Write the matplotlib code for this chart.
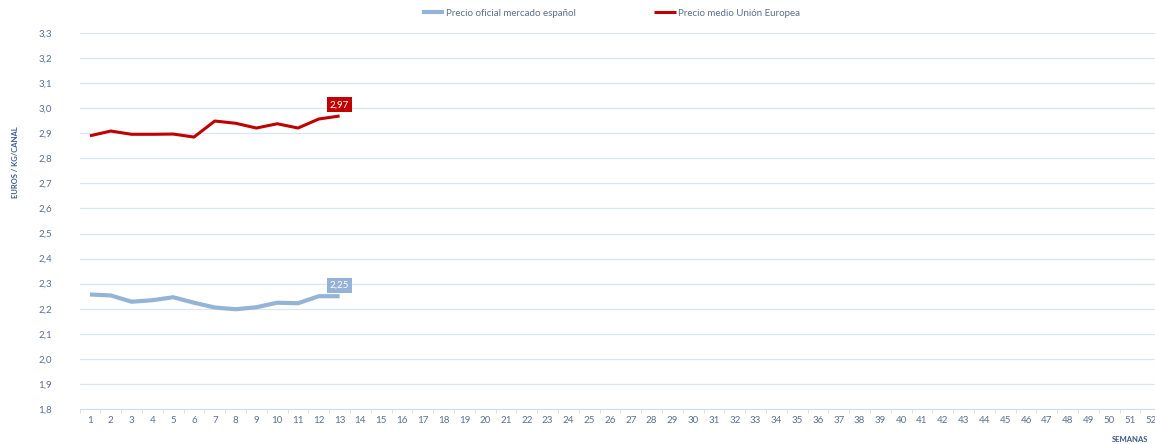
import numpy as np
import matplotlib.pyplot as plt
from matplotlib.ticker import FixedLocator

weeks = list(range(1, 53))
semanas_datos = list(range(1, 14))
precio_espanol = [2.257, 2.253, 2.228, 2.234, 2.246, 2.224, 2.205, 2.198, 2.206, 2.224, 2.222, 2.250, 2.250]
precio_ue = [2.890, 2.909, 2.896, 2.896, 2.897, 2.885, 2.949, 2.940, 2.921, 2.938, 2.921, 2.957, 2.969]
yticks = [1.8, 1.9, 2.0, 2.1, 2.2, 2.3, 2.4, 2.5, 2.6, 2.7, 2.8, 2.9, 3.0, 3.1, 3.2, 3.3]

plt.rcParams['font.family'] = ['Lato', 'DejaVu Sans']
txt = '#5b6f8f'
azul = '#95b3d7'
rojo = '#c00000'

fig = plt.figure(figsize=(11.55, 4.44), dpi=100)
ax = fig.add_axes([0.0689, 0.0788, 0.9365, 0.8468])

ax.plot(semanas_datos, precio_espanol, color=azul, lw=3.0, solid_capstyle='butt',
        label='Precio oficial mercado español')
ax.plot(semanas_datos, precio_ue, color=rojo, lw=2.2, solid_capstyle='butt',
        label='Precio medio Unión Europea')

# etiquetas del ultimo valor
for serie, col in ((precio_espanol, azul), (precio_ue, rojo)):
    v = serie[-1]
    ax.annotate(f'{v:.2f}'.replace('.', ','), (semanas_datos[-1], v),
                xytext=(0, 8), textcoords='offset points', ha='center', va='center',
                fontsize=7, color='white',
                bbox=dict(boxstyle='square,pad=0.3', fc=col, ec='none'))

ax.set_xlim(0.5, 52.5)
ax.set_ylim(1.8, 3.3)
ax.set_yticks(yticks)
ax.set_yticklabels([f'{v:.1f}'.replace('.', ',') for v in yticks])
ax.set_xticks(weeks)
ax.set_xticklabels([str(w) for w in weeks])
ax.xaxis.set_minor_locator(FixedLocator(np.arange(0.5, 53, 1)))
ax.tick_params(axis='x', which='major', length=0, labelsize=7, colors=txt, pad=5)
ax.tick_params(axis='x', which='minor', length=3, color='#d0dbe8')
ax.tick_params(axis='y', length=0, labelsize=7, colors=txt, pad=20)
ax.grid(axis='y', color='#dce6f2', lw=0.9)
ax.set_axisbelow(True)
for s in ['top', 'right', 'left']:
    ax.spines[s].set_visible(False)
ax.spines['bottom'].set_color('#d0dbe8')
ax.spines['bottom'].set_zorder(0.5)

fig.text(0.013, 0.635, 'EUROS / KG/CANAL', rotation=90, ha='center', va='center',
         fontsize=5.5, fontweight='bold', color='#3b5a8a')
fig.text(0.978, 0.003, 'SEMANAS', ha='center', va='bottom',
         fontsize=5.5, fontweight='bold', color='#3b5a8a')

fig.legend(loc='upper center', bbox_to_anchor=(0.529, 1.0), ncol=2, frameon=False,
           fontsize=7, labelcolor=txt, handlelength=2.3, handletextpad=0.2,
           columnspacing=8)

fig.savefig('out.png', dpi=100)
